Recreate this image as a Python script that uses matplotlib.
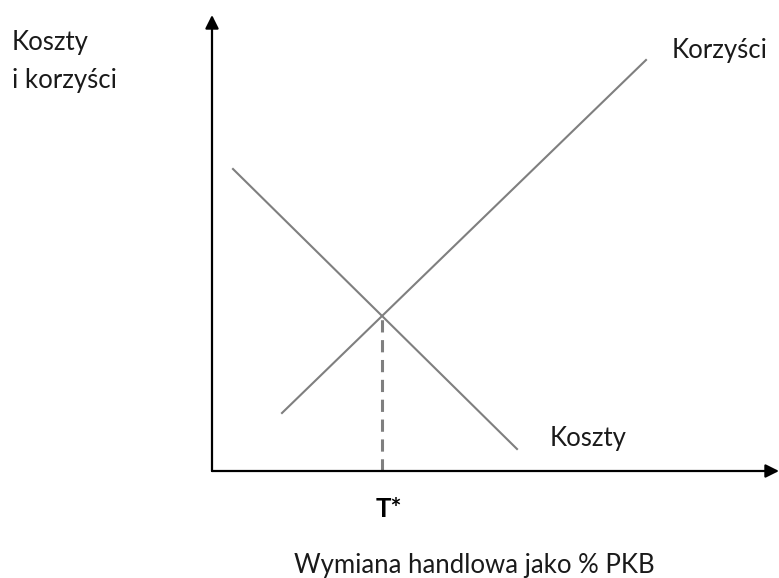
import matplotlib.pyplot as plt

# line endpoints in plot units (origin at the axes corner)
korzysci_x = [70, 434]
korzysci_y = [58, 411]
koszty_x = [21, 305]
koszty_y = [302, 22]
t_star_x = 170
t_star_y = 155

plt.rcParams['font.family'] = ['Lato', 'DejaVu Sans']

fig = plt.figure(figsize=(7.79, 5.78), dpi=100)
ax = fig.add_axes([0, 0, 1, 1])
ax.set_xlim(-212, 567)
ax.set_ylim(-107, 471)
ax.axis('off')

# axes with arrows
ax.annotate('', xy=(0, 456), xytext=(0, 0),
            arrowprops=dict(arrowstyle='-|>', color='black', lw=1.6,
                            mutation_scale=20, shrinkA=0, shrinkB=0))
ax.annotate('', xy=(567, 0), xytext=(0, 0),
            arrowprops=dict(arrowstyle='-|>', color='black', lw=1.6,
                            mutation_scale=20, shrinkA=0, shrinkB=0))

ax.plot(korzysci_x, korzysci_y, color='#7f7f7f', lw=1.5)
ax.plot(koszty_x, koszty_y, color='#7f7f7f', lw=1.5)
ax.plot([t_star_x, t_star_x], [0, t_star_y], color='#7f7f7f', lw=2.2,
        linestyle=(0, (4, 2.5)))

fs = 18.5
ax.text(-200, 421, 'Koszty', fontsize=fs, va='baseline', ha='left', color='#1a1a1a')
ax.text(-200, 383, 'i korzyści', fontsize=fs, va='baseline', ha='left', color='#1a1a1a')
ax.text(460, 413, 'Korzyści', fontsize=fs, va='baseline', ha='left', color='#1a1a1a')
ax.text(338, 25, 'Koszty', fontsize=fs, va='baseline', ha='left', color='#1a1a1a')
ax.text(t_star_x + 7, -46, 'T*', fontsize=fs, fontweight='bold', va='baseline', ha='center')
ax.text(262, -102, 'Wymiana handlowa jako % PKB', fontsize=fs, va='baseline', ha='center',
        color='#1a1a1a')

fig.savefig('out.png', dpi=100)
